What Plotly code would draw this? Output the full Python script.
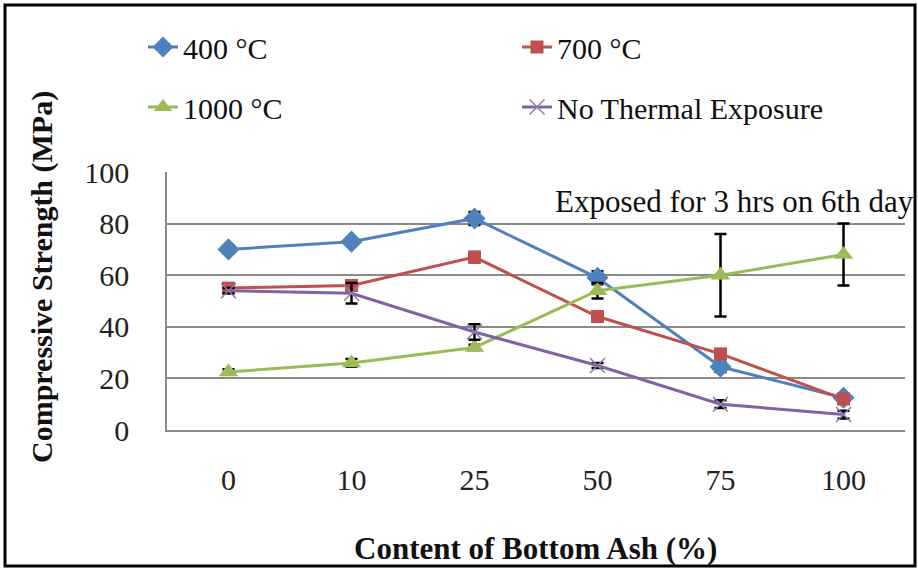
import plotly.graph_objects as go

categories = ["0", "10", "25", "50", "75", "100"]
s400 = [70, 73, 82, 59, 24.5, 12.5]
s700 = [55, 56, 67, 44, 29.5, 12]
s1000 = [22.5, 26, 32, 54, 60, 68]
s_none = [54, 53, 38, 25, 10, 6]
err400 = [1.5, 1, 2.5, 2.5, 2, 1.5]
err700 = [1, 1, 2, 1, 1.5, 1]
err1000 = [1, 1.5, 1, 3, 16, 12]
err_none = [1, 4, 3, 1, 1.5, 1.5]
names = ["400 °C", "700 °C", "1000 °C", "No Thermal Exposure"]
y_ticks = [0, 20, 40, 60, 80, 100]

W, H = 918, 569
L, R, T, B = 167, 13, 172, 139
pw, ph = W - L - R, H - T - B

def px_x(x):
    return (x - L) / pw

def px_y(y):
    return (H - B - y) / ph

FONT = "'Times New Roman', 'Liberation Serif', 'DejaVu Serif', serif"

fig = go.Figure()

specs = [
    (s400, err400, names[0], "#4F81BD", dict(symbol="diamond", size=17), "legend"),
    (s700, err700, names[1], "#C0504D", dict(symbol="square", size=13), "legend2"),
    (s1000, err1000, names[2], "#9BBB59", dict(symbol="triangle-up", size=17), "legend3"),
    (s_none, err_none, names[3], "#8064A2", dict(symbol="x-thin", size=15, line=dict(width=1.5, color="#8F7CAE")), "legend4"),
]
for vals, errs, name, color, marker, lg in specs:
    m = dict(color=color, **marker)
    fig.add_trace(go.Scatter(
        x=categories, y=vals, name=name, mode="lines+markers",
        line=dict(color=color, width=3), marker=m, legend=lg, showlegend=True,
        error_y=dict(type="data", array=errs, visible=True, color="black",
                     thickness=2.5, width=6),
    ))

def leg(xt, yc):
    return dict(orientation="v", x=px_x(xt - 40), y=px_y(yc), xanchor="left", yanchor="middle",
                font=dict(family=FONT, size=30, color="#111"), bgcolor="rgba(0,0,0,0)")

fig.update_layout(
    width=W, height=H,
    showlegend=True,
    margin=dict(l=L, r=R, t=T, b=B, autoexpand=False),
    paper_bgcolor="white", plot_bgcolor="white",
    font=dict(family=FONT, size=30, color="#111"),
    xaxis=dict(type="category", range=[-0.5, 5.5], showgrid=False, showline=True,
               linecolor="#8A8A8A", linewidth=1.5, ticks="", ticklabelstandoff=22,
               tickfont=dict(family=FONT, size=30, color="#222")),
    yaxis=dict(range=[0, 100], tickvals=y_ticks, showgrid=True, gridcolor="#8A8A8A",
               gridwidth=1.5, showline=True, linecolor="#8A8A8A", linewidth=1.5,
               ticks="", ticklabelstandoff=30, zeroline=False,
               tickfont=dict(family=FONT, size=30, color="#222")),
    legend=leg(183, 47),
    legend2=leg(557, 47),
    legend3=leg(183, 107),
    legend4=leg(557, 107),
    annotations=[
        dict(text="Exposed for 3 hrs on 6th day", xref="paper", yref="paper",
             x=px_x(553), y=px_y(201), xanchor="left", yanchor="middle",
             showarrow=False, font=dict(family=FONT, size=31, color="#111")),
        dict(text="<b>Compressive Strength (MPa)</b>", xref="paper", yref="paper",
             x=px_x(42), y=px_y(277), xanchor="center", yanchor="middle", textangle=-90,
             showarrow=False, font=dict(family=FONT, size=30, color="#111")),
        dict(text="<b>Content of Bottom Ash (%)</b>", xref="paper", yref="paper",
             x=px_x(535), y=px_y(548), xanchor="center", yanchor="middle",
             showarrow=False, font=dict(family=FONT, size=31, color="#111")),
    ],
    shapes=[
        dict(type="rect", xref="paper", yref="paper",
             x0=px_x(5), x1=px_x(915), y0=px_y(566), y1=px_y(5),
             line=dict(color="black", width=3), fillcolor="rgba(0,0,0,0)"),
    ],
)

fig.write_html("out.html")
